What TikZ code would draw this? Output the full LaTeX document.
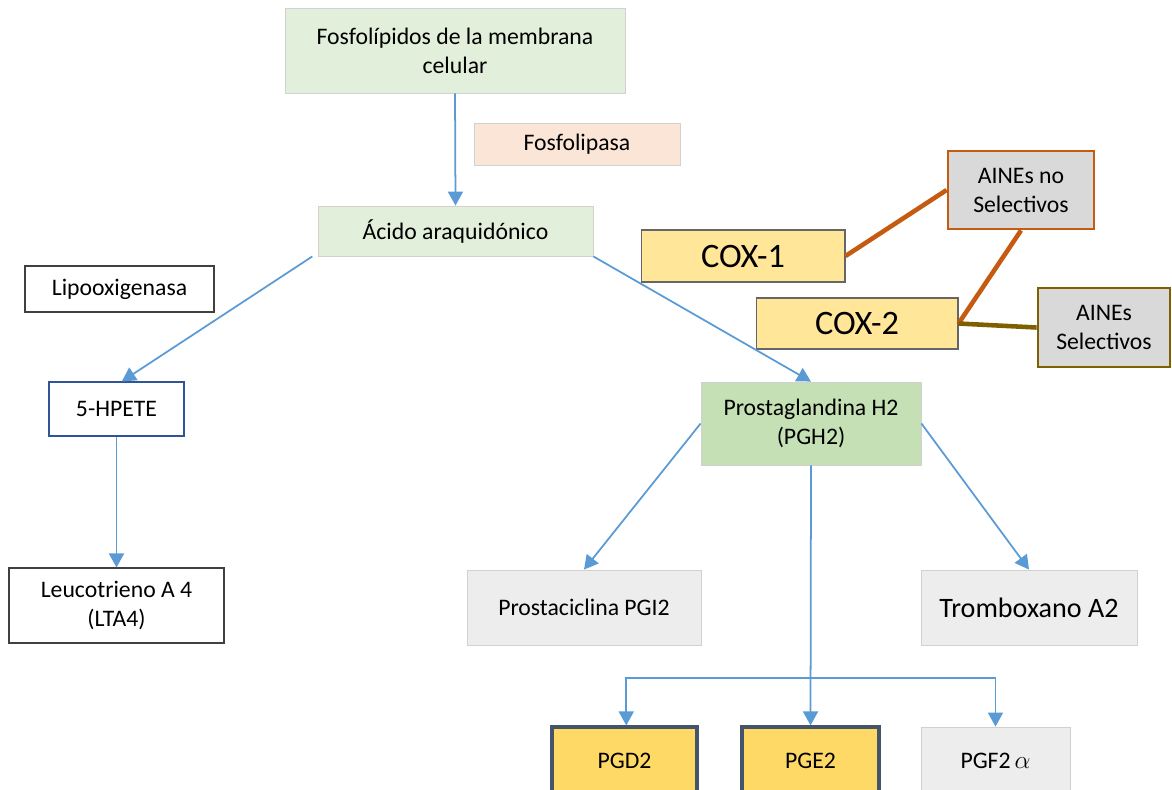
\documentclass[tikz,border=0pt]{standalone}
\usepackage{fontspec}
\setmainfont{Carlito}
\usetikzlibrary{arrows.meta}
\definecolor{greenlight}{HTML}{E2EFDA}
\definecolor{greenmid}{HTML}{C5E0B4}
\definecolor{peach}{HTML}{FBE5D6}
\definecolor{greybox}{HTML}{EDEDED}
\definecolor{greydark}{HTML}{D9D9D9}
\definecolor{yellowbox}{HTML}{FFE699}
\definecolor{goldbox}{HTML}{FFD966}
\definecolor{arrowblue}{HTML}{5B9BD5}
\definecolor{orangeline}{HTML}{C55A11}
\definecolor{oliveline}{HTML}{7F6000}
\definecolor{slate}{HTML}{44546A}
\definecolor{hpeteblue}{HTML}{2F5597}
\begin{document}
\begin{tikzpicture}[x=0.02cm,y=-0.02cm,
    box/.style={rectangle,align=center,inner sep=2pt,font=\fontsize{13.5}{16.5}\selectfont},
    pale/.style={box,draw=black!18,line width=0.5pt},
    plain/.style={box,draw=black!75,fill=white,line width=0.6pt},
    arr/.style={draw=arrowblue,line width=1pt,-{Triangle[width=0.3cm,length=0.28cm]}}]
    \useasboundingbox (0,0) rectangle (1172,789);
    \clip (0,0) rectangle (1172,789);

    % Source and first step
    \node [pale,fill=greenlight,minimum width=6.8cm,minimum height=1.7cm] (fosfo) at (455,50.5) {Fosfolípidos de la membrana\\celular};
    \node [pale,fill=peach,minimum width=4.12cm,minimum height=0.84cm] (fosfolipasa) at (577,144) {Fosfolipasa};
    \node [pale,fill=greenlight,minimum width=5.5cm,minimum height=1cm] (acido) at (455.5,231) {Ácido araquidónico};

    % Lipooxigenasa branch
    \node [plain,minimum width=3.78cm,minimum height=0.92cm] (lipo) at (119.5,289) {Lipooxigenasa};
    \node [plain,draw=hpeteblue,minimum width=2.7cm,minimum height=1.08cm] (hpete) at (116.5,409) {5-HPETE};
    \node [plain,minimum width=4.3cm,minimum height=1.5cm] (lta4) at (116.5,605.5) {Leucotrieno A 4\\(LTA4)};

    % Ciclooxigenasa branch
    \node [pale,fill=greenmid,minimum width=4.4cm,minimum height=1.66cm] (pgh2) at (811,423.5) {Prostaglandina H2\\(PGH2)};
    \node [pale,fill=greybox,minimum width=4.68cm,minimum height=1.5cm] (pgi2) at (584,607.5) {Prostaciclina PGI2};
    \node [pale,fill=greybox,minimum width=4.32cm,minimum height=1.5cm,font=\fontsize{16}{19}\selectfont] (txa2) at (1029,607.5) {Tromboxano A2};
    \node [box,draw=slate,fill=goldbox,line width=1.8pt,minimum width=2.9cm,minimum height=1.36cm] (pgd2) at (624.5,761) {PGD2};
    \node [box,draw=slate,fill=goldbox,line width=1.8pt,minimum width=2.74cm,minimum height=1.36cm] (pge2) at (810.5,761) {PGE2};
    \node [pale,fill=greybox,minimum width=2.98cm,minimum height=1.36cm] (pgf2) at (995.5,761) {PGF2\,$\alpha$};
    \coordinate (split) at (810,678);

    % Enzymes and inhibitors
    \node [box,draw=black!60,fill=yellowbox,line width=0.6pt,minimum width=4.08cm,minimum height=1.04cm,font=\fontsize{19.5}{22}\selectfont] (cox1) at (743,256) {COX-1};
    \node [box,draw=black!60,fill=yellowbox,line width=0.6pt,minimum width=4.04cm,minimum height=1.02cm,font=\fontsize{19.5}{22}\selectfont] (cox2) at (857,323.5) {COX-2};
    \node [box,draw=orangeline,fill=greydark,line width=1.6pt,minimum width=2.92cm,minimum height=1.56cm] (ainesno) at (1021,190) {AINEs no\\Selectivos};
    \node [box,draw=oliveline,fill=greydark,line width=1.6pt,minimum width=2.64cm,minimum height=1.58cm] (ainessel) at (1104,327.5) {AINEs\\Selectivos};

    % Arrows
    \draw [arr] (fosfo.south) -- (acido.north);
    \draw [arr] ([xshift=-3pt]acido.south west) -- ([xshift=3pt]hpete.north);
    \draw [arr] (acido.south east) -- (pgh2.north);
    \draw [arr] (hpete.south) -- (lta4.north);
    \draw [arr] (pgh2.west) -- (pgi2.north);
    \draw [arr] (pgh2.east) -- (txa2.north);
    \draw [arr] (pgh2.south) -- (pge2.north);
    \draw [arr] (split) -| ([xshift=1pt]pgd2.north);
    \draw [arr] (split) -| (pgf2.north);

    % Inhibition lines
    \draw [orangeline,line width=2.6pt] (cox1.east) -- (ainesno.west);
    \draw [orangeline,line width=2.6pt] (cox2.east) -- (ainesno.south);
    \draw [oliveline,line width=2.6pt] (cox2.east) -- (ainessel.west);
\end{tikzpicture}
\end{document}
